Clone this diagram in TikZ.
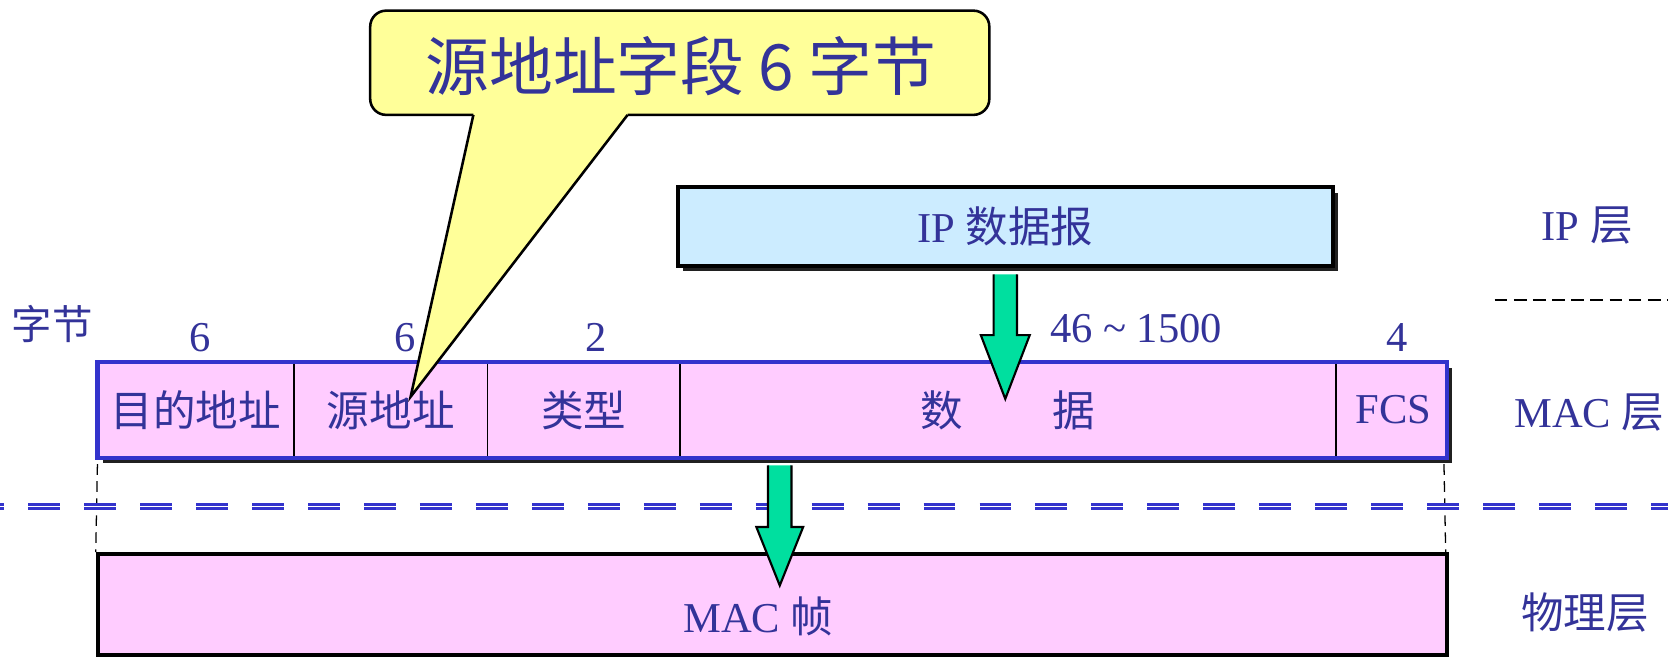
\documentclass[tikz,border=0pt]{standalone}
\usepackage{fontspec}
\setmainfont{Liberation Serif}
\newfontfamily\cjk{Noto Sans CJK SC}
\usetikzlibrary{calc,shadows}
\definecolor{txtblue}{HTML}{333399}
\definecolor{callyellow}{HTML}{FFFF99}
\definecolor{ipblue}{HTML}{CCECFF}
\definecolor{macpink}{HTML}{FFCCFF}
\definecolor{rowblue}{HTML}{3333CC}
\definecolor{arrgreen}{HTML}{00DF9F}
\definecolor{shadowgray}{HTML}{202020}
\begin{document}
\begin{tikzpicture}[x=0.5pt,y=-0.5pt,
  lbl/.style={text=txtblue,font=\fontsize{20}{24}\selectfont,inner sep=0pt},
  fieldbox/.style={minimum height=44.5pt,inner sep=0pt,anchor=west,text=txtblue,font=\fontsize{20}{24}\selectfont},
  divider/.style={line width=0.8pt,black},
  boxshadow/.style={drop shadow={shadow xshift=2.5pt,shadow yshift=-2.5pt,fill=shadowgray,opacity=1}},
  greenarrow/.style={fill=arrgreen,draw=black,line width=1pt,line join=miter},
  vdash/.style={black,line width=0.6pt,dash pattern=on 5pt off 3pt},
  sepline/.style={rowblue,line width=1.4pt,double=white,double distance=0.65pt,dash pattern=on 15pt off 11.3pt},
  layerline/.style={black,line width=1pt,dash pattern=on 6pt off 3pt}]
\useasboundingbox (0,0) rectangle (1568,619);

% physical-layer MAC frame
\node[draw=black,line width=2pt,fill=macpink,minimum width=634pt,minimum height=47.5pt,inner sep=0pt] (frame) at (726,568.5) {};
\node[lbl] (frametxt) at (713,579) {MAC {\cjk 帧}};

% MAC layer row
\node[fill=macpink,boxshadow,minimum width=634pt,minimum height=44.5pt,inner sep=0pt] (macrow) at (726,385.5) {};
\node[fieldbox,minimum width=92pt] (f1) at (macrow.west) {\cjk 目的地址};
\node[fieldbox,minimum width=90.5pt] (f2) at (f1.east) {\cjk 源地址};
\node[fieldbox,minimum width=90pt] (f3) at (f2.east) {\cjk 类型};
\node[fieldbox,minimum width=308pt] (f4) at (f3.east) {\cjk 数\hspace{42pt}据};
\node[fieldbox,minimum width=53.5pt] (f5) at (f4.east) {FCS};
\draw[divider] (f1.north east) -- (f1.south east);
\draw[divider] (f2.north east) -- (f2.south east);
\draw[divider] (f3.north east) -- (f3.south east);
\draw[divider] (f4.north east) -- (f4.south east);
\draw[rowblue,line width=2pt] (macrow.south west) rectangle (macrow.north east);

% byte counts
\node[lbl,font=\fontsize{19}{22}\selectfont] (zj) at (49,305) {\cjk 字节};
\node[lbl] (n1) at (188,317) {6};
\node[lbl] (n2) at (381,317) {6};
\node[lbl] (n3) at (560,317) {2};
\node[lbl] (n4) at (1068,309) {46 \textasciitilde{} 1500};
\node[lbl] (n5) at (1313,317) {4};

% dashed verticals
\draw[vdash] ($(macrow.south west)+(0,6)$) -- (frame.north west);
\draw[vdash] ($(macrow.south east)+(-3,6)$) -- ($(frame.north east)+(-3,0)$);

% layer separator
\coordinate (sepL) at (-26,476);
\coordinate (sepR) at (1620,476);
\draw[sepline] (sepL) -- (sepR);

% arrow MAC row -> frame
\coordinate (a2) at ($(macrow.south)+(7,7)$);
\filldraw[greenarrow] ($(a2)+(-11,0)$) -- ($(a2)+(-11,58)$) -- ($(a2)+(-22,58)$) -- ($(a2)+(0,113)$) -- ($(a2)+(22,58)$) -- ($(a2)+(11,58)$) -- ($(a2)+(11,0)$);

% IP datagram
\node[draw=black,line width=2pt,fill=ipblue,boxshadow,minimum width=308pt,minimum height=37pt,inner sep=0pt] (ip) at (945,213) {};
\node[lbl] (iptxt) at (945,213) {IP {\cjk 数据报}};
\coordinate (a1) at ($(ip.south)+(0,6)$);
\filldraw[greenarrow] ($(a1)+(-11,0)$) -- ($(a1)+(-11,57)$) -- ($(a1)+(-23,57)$) -- ($(a1)+(0,117)$) -- ($(a1)+(23,57)$) -- ($(a1)+(11,57)$) -- ($(a1)+(11,0)$);

% layer names
\node[lbl] (iplayer) at (1492,212) {IP {\cjk 层}};
\node[lbl] (maclayer) at (1494,388) {MAC {\cjk 层}};
\node[lbl] (phylayer) at (1490,576) {\cjk 物理层};
\coordinate (lsL) at (1405,282);
\coordinate (lsR) at (1568,282);
\draw[layerline] (lsL) -- (lsR);

% callout
\node[draw=black,line width=1.2pt,fill=callyellow,rounded corners=7.5pt,minimum width=291pt,minimum height=49pt,inner sep=0pt] (callout) at (639,59) {};
\coordinate (tip) at (386,373);
\coordinate (tl) at (445,108);
\coordinate (tr) at (590,108);
\fill[callyellow] ($(tl)+(0,-5)$) -- ($(tr)+(0,-5)$) -- (tr) -- (tip) -- (tl) -- cycle;
\draw[black,line width=1.2pt,line join=miter] (tl) -- (tip) -- (tr);
\node[text=txtblue,font=\cjk\fontsize{30}{34}\selectfont,inner sep=0pt] (calltxt) at (640,62) {源地址字段 6 字节};
\end{tikzpicture}
\end{document}
